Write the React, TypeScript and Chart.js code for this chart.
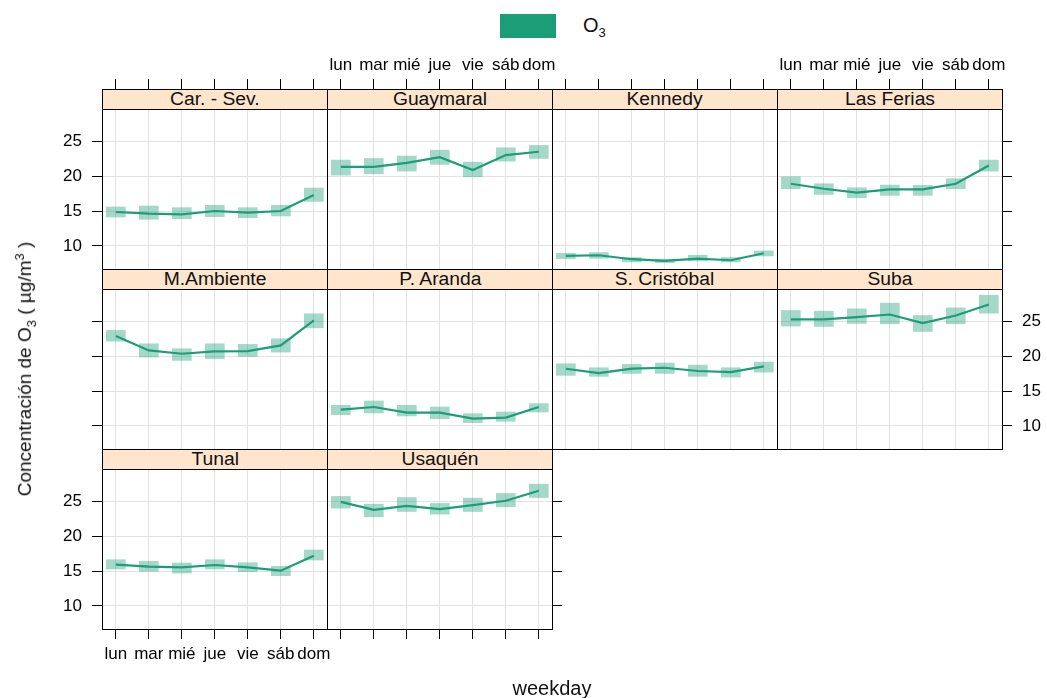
import React, { useEffect, useRef } from "react";
import { Chart, registerables } from "chart.js";

Chart.register(...registerables);

// ---------- data ----------
const weekdays = ["lun", "mar", "mié", "jue", "vie", "sáb", "dom"];
const yTickValues = [10, 15, 20, 25];
const siteNames = [
  "Car. - Sev.",
  "Guaymaral",
  "Kennedy",
  "Las Ferias",
  "M.Ambiente",
  "P. Aranda",
  "S. Cristóbal",
  "Suba",
  "Tunal",
  "Usaquén",
];

const carSevMean = [14.86, 14.62, 14.52, 15.0, 14.76, 15.0, 17.29];
const carSevLower = [14.14, 13.81, 13.9, 14.19, 14.05, 14.29, 16.38];
const carSevUpper = [15.57, 15.71, 15.48, 15.81, 15.48, 15.81, 18.29];

const guaymaralMean = [21.33, 21.33, 21.9, 22.71, 20.86, 23.0, 23.48];
const guaymaralLower = [20.14, 20.33, 20.71, 21.67, 19.9, 22.14, 22.52];
const guaymaralUpper = [22.29, 22.52, 22.86, 23.71, 22.0, 24.05, 24.38];

const kennedyMean = [8.57, 8.67, 8.1, 7.86, 8.19, 7.95, 8.95];
const kennedyLower = [8.19, 8.24, 7.71, 7.62, 7.86, 7.71, 8.57];
const kennedyUpper = [8.95, 9.05, 8.33, 8.1, 8.67, 8.33, 9.29];

const lasFeriasMean = [18.9, 18.19, 17.62, 18.1, 18.1, 18.9, 21.52];
const lasFeriasLower = [18.19, 17.38, 16.9, 17.24, 17.24, 18.19, 20.71];
const lasFeriasUpper = [19.9, 18.9, 18.33, 18.71, 18.67, 19.62, 22.29];

const mAmbienteMean = [22.86, 20.81, 20.33, 20.67, 20.71, 21.52, 25.1];
const mAmbienteLower = [22.14, 19.86, 19.38, 19.62, 19.95, 20.57, 24.05];
const mAmbienteUpper = [23.67, 21.76, 21.05, 21.76, 21.67, 22.48, 26.05];

const pArandaMean = [12.33, 12.71, 11.9, 11.9, 11.05, 11.19, 12.71];
const pArandaLower = [11.62, 11.86, 11.43, 11.05, 10.48, 10.67, 12.0];
const pArandaUpper = [12.95, 13.57, 12.95, 12.71, 11.76, 12.0, 13.19];

const sCristobalMean = [18.19, 17.57, 18.19, 18.33, 17.86, 17.71, 18.52];
const sCristobalLower = [17.24, 17.1, 17.52, 17.52, 17.1, 17.0, 17.71];
const sCristobalUpper = [18.9, 18.33, 18.81, 19.0, 18.71, 18.33, 19.14];

const subaMean = [25.24, 25.24, 25.57, 25.95, 24.71, 25.81, 27.38];
const subaLower = [24.29, 24.24, 24.67, 24.62, 23.52, 24.62, 26.14];
const subaUpper = [26.52, 26.43, 26.76, 27.57, 25.81, 26.9, 28.71];

const tunalMean = [15.9, 15.62, 15.52, 15.86, 15.52, 15.05, 17.19];
const tunalLower = [15.29, 14.95, 14.71, 15.29, 14.9, 14.33, 16.57];
const tunalUpper = [16.62, 16.38, 16.14, 16.62, 16.19, 15.67, 18.0];

const usaquenMean = [24.9, 23.76, 24.33, 23.86, 24.43, 25.05, 26.48];
const usaquenLower = [24.0, 22.76, 23.52, 23.14, 23.52, 24.19, 25.52];
const usaquenUpper = [25.67, 24.57, 25.52, 24.67, 25.43, 26.1, 27.43];

const siteMeans = [carSevMean, guaymaralMean, kennedyMean, lasFeriasMean, mAmbienteMean, pArandaMean, sCristobalMean, subaMean, tunalMean, usaquenMean];
const siteLowers = [carSevLower, guaymaralLower, kennedyLower, lasFeriasLower, mAmbienteLower, pArandaLower, sCristobalLower, subaLower, tunalLower, usaquenLower];
const siteUppers = [carSevUpper, guaymaralUpper, kennedyUpper, lasFeriasUpper, mAmbienteUpper, pArandaUpper, sCristobalUpper, subaUpper, tunalUpper, usaquenUpper];

// ---------- styling / layout ----------
const FONT = "'Liberation Sans', Arial, Helvetica, sans-serif";
const GREEN = "#1b9e77";
const BOX = "rgba(27,158,119,0.4)";
const GRID = "#e2e2e2";
const INK = "#000000";

const NCOL = 4;
const PLOT_LEFT = 102;
const PLOT_TOP = 109;
const COL_W = 225;
const ROW_H = 180;
const PLOT_H = 160;
const STRIP_H = 20;
const ML = 60, MR = 60, MT = 60, MB = 50;
const X_MIN = 0.58, X_MAX = 7.4;
const Y_MIN = 6.7, Y_MAX = 29.6;

function Panel({ index }: { index: number }) {
  const ref = useRef<HTMLCanvasElement | null>(null);
  const r = Math.floor(index / NCOL);
  const c = index % NCOL;
  const n = siteNames.length;
  const lastRow = Math.floor((n - 1) / NCOL);

  useEffect(() => {
    if (!ref.current) return;
    const topTicks = r === 0;
    const topLabels = r === 0 && c % 2 === 1;
    const bottomTicks = r === lastRow;
    const bottomLabels = r === lastRow && c % 2 === 0;
    const leftTicks = c === 0;
    const leftLabels = c === 0 && r % 2 === 0;
    const lastInRow = c === NCOL - 1 || index === n - 1;
    const rightTicks = lastInRow;
    const rightLabels = lastInRow && r % 2 === 1;

    const tickFont = { family: FONT, size: 17 };
    const buildX = (axis: any) => {
      axis.ticks = weekdays.map((_, i) => ({ value: i + 1 }));
    };
    const buildY = (axis: any) => {
      axis.ticks = yTickValues.map((v) => ({ value: v }));
    };
    const xLabel = (_v: any, i: number) => weekdays[i];
    const yLabel = (v: any) => String(v);

    const means = siteMeans[index];
    const lows = siteLowers[index];
    const highs = siteUppers[index];

    const chart = new Chart(ref.current, {
      type: "line",
      data: {
        datasets: [
          {
            type: "line",
            data: means.map((v, i) => ({ x: i + 1, y: v })),
            borderColor: GREEN,
            borderWidth: 2.2,
            pointRadius: 0,
            tension: 0,
            order: 0,
            xAxisID: "x",
            yAxisID: "y",
          } as any,
          {
            type: "bar",
            data: lows.map((lo, i) => ({ x: i + 1, y: [lo, highs[i]] })),
            backgroundColor: BOX,
            borderWidth: 0,
            barThickness: 19,
            order: 1,
            xAxisID: "x",
            yAxisID: "y",
          } as any,
        ],
      },
      options: {
        animation: false,
        responsive: false,
        devicePixelRatio: 1,
        events: [],
        layout: { padding: 0, autoPadding: false } as any,
        plugins: { legend: { display: false }, tooltip: { enabled: false }, title: { display: false } },
        scales: {
          x: {
            type: "linear",
            position: "bottom",
            min: X_MIN,
            max: X_MAX,
            offset: false,
            afterBuildTicks: buildX,
            afterFit: (s: any) => { s.height = MB; },
            ticks: { display: bottomLabels, callback: xLabel, font: tickFont, color: INK, padding: 5, autoSkip: false, maxRotation: 0 },
            grid: { offset: false, color: GRID, lineWidth: 1, tickColor: INK, drawTicks: bottomTicks, tickLength: 10 },
            border: { display: true, color: INK, width: 1 },
          },
          x2: {
            type: "linear",
            position: "top",
            min: X_MIN,
            max: X_MAX,
            offset: false,
            afterBuildTicks: buildX,
            afterFit: (s: any) => { s.height = MT; },
            ticks: { display: topLabels, callback: xLabel, font: tickFont, color: INK, padding: 3, autoSkip: false, maxRotation: 0 },
            grid: { offset: false, drawOnChartArea: false, tickColor: INK, drawTicks: topTicks, tickLength: 30 },
            border: { display: true, color: INK, width: 1 },
          },
          y: {
            type: "linear",
            position: "left",
            min: Y_MIN,
            max: Y_MAX,
            afterBuildTicks: buildY,
            afterFit: (s: any) => { s.width = ML; },
            ticks: { display: leftLabels, callback: yLabel, font: tickFont, color: INK, padding: 10, autoSkip: false },
            grid: { color: GRID, lineWidth: 1, tickColor: INK, drawTicks: leftTicks, tickLength: 10 },
            border: { display: true, color: INK, width: 1 },
          },
          y2: {
            type: "linear",
            position: "right",
            min: Y_MIN,
            max: Y_MAX,
            afterBuildTicks: buildY,
            afterFit: (s: any) => { s.width = MR; },
            ticks: { display: rightLabels, callback: yLabel, font: tickFont, color: INK, padding: 10, autoSkip: false },
            grid: { drawOnChartArea: false, tickColor: INK, drawTicks: rightTicks, tickLength: 10 },
            border: { display: true, color: INK, width: 1 },
          },
        } as any,
      },
    });
    return () => chart.destroy();
  }, [index]);

  const left = PLOT_LEFT + COL_W * c - ML;
  const top = PLOT_TOP + ROW_H * r - MT;
  const w = ML + COL_W + MR;
  const h = MT + PLOT_H + MB;
  return (
    <canvas
      ref={ref}
      width={w}
      height={h}
      style={{ position: "absolute", left, top, width: w, height: h }}
    />
  );
}

function Strip({ index }: { index: number }) {
  const r = Math.floor(index / NCOL);
  const c = index % NCOL;
  return (
    <div
      style={{
        position: "absolute",
        left: PLOT_LEFT + COL_W * c,
        top: PLOT_TOP + ROW_H * r - STRIP_H,
        width: COL_W + 1,
        height: STRIP_H + 1,
        boxSizing: "border-box",
        border: "1px solid #000",
        background: "#ffe5cc",
        fontFamily: FONT,
        fontSize: 18,
        lineHeight: "19px",
        textAlign: "center",
        color: "#111",
        whiteSpace: "nowrap",
        overflow: "hidden",
      }}
    >
      <span style={{ display: "inline-block", transform: "scaleX(1.07)" }}>{siteNames[index]}</span>
    </div>
  );
}

export default function App() {
  return (
    <div
      style={{
        position: "fixed",
        left: 0,
        top: 0,
        width: 1047,
        height: 698,
        background: "#fff",
        overflow: "hidden",
        fontFamily: FONT,
        color: "#111",
      }}
    >
      {siteNames.map((_, i) => (
        <Panel key={"p" + i} index={i} />
      ))}
      {siteNames.map((_, i) => (
        <Strip key={"s" + i} index={i} />
      ))}
      {/* legend */}
      <div style={{ position: "absolute", left: 500, top: 14, width: 56, height: 24, background: GREEN }} />
      <div style={{ position: "absolute", left: 583, top: 12, height: 26, lineHeight: "26px", fontSize: 20 }}>
        O<sub style={{ fontSize: 13 }}>3</sub>
      </div>
      {/* y axis title */}
      <div
        style={{
          position: "absolute",
          left: 26,
          top: 369,
          transform: "translate(-50%, -50%) rotate(-90deg)",
          whiteSpace: "nowrap",
          fontSize: 19,
          lineHeight: "22px",
        }}
      >
        Concentración de O<sub style={{ fontSize: 13 }}>3</sub> ( µg/m<sup style={{ fontSize: 13 }}>3</sup> )
      </div>
      {/* x axis title */}
      <div
        style={{
          position: "absolute",
          left: 552,
          top: 688,
          transform: "translate(-50%, -50%)",
          whiteSpace: "nowrap",
          fontSize: 20,
        }}
      >
        weekday
      </div>
    </div>
  );
}
